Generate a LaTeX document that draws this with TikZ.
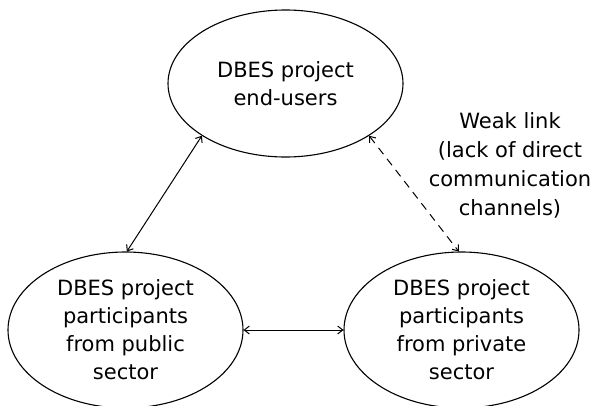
\documentclass[tikz,border=0pt]{standalone}
\usepackage{fontspec}
\setmainfont{DejaVu Sans}
\usetikzlibrary{shapes.geometric,arrows.meta}

\begin{document}
\begin{tikzpicture}[x=1pt,y=-1pt,
    >={Straight Barb[length=5pt,width=8pt]},
    group/.style={ellipse,draw,line width=1.1pt,inner sep=0pt,align=center,
        minimum width=235pt,font=\fontsize{21}{28}\selectfont},
    link/.style={<->,line width=1pt}]
\useasboundingbox (0,0) rectangle (594,405);

% Ellipses
\node[group,minimum height=147pt] (users) at (285.5,83.5) {DBES project\\end-users};
\node[group,minimum height=156pt] (public) at (125.5,330) {DBES project\\participants\\from public\\sector};
\node[group,minimum height=156pt] (private) at (461.5,330) {DBES project\\participants\\from private\\sector};

% Label of the weak link
\node[align=center,inner sep=0pt,font=\fontsize{21}{29}\selectfont] (weak) at (510,165) {Weak link\\(lack of direct\\communication\\channels)};

% Links
\draw[link] (users.212) -- (public.89);
\draw[link] (public.east) -- (private.west);
\draw[link,dash pattern=on 8pt off 6pt] (users.-32) -- (private.92);
\end{tikzpicture}
\end{document}
